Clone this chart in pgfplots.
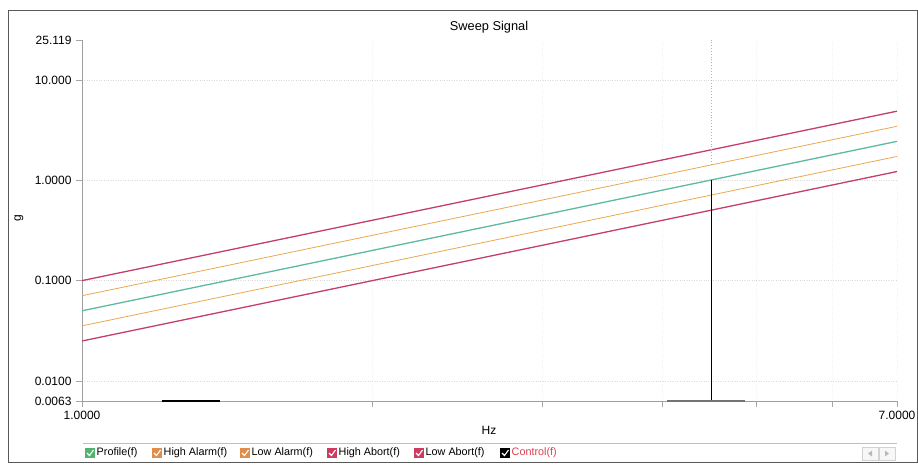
\documentclass[border=0pt]{standalone}
\usepackage{fontspec}
\setmainfont{Liberation Sans}
\usepackage{pgfplots}
\pgfplotsset{compat=1.18}

\definecolor{profilec}{RGB}{92,186,160}
\definecolor{alarmc}{RGB}{232,168,78}
\definecolor{abortc}{RGB}{196,62,104}
\definecolor{legprof}{RGB}{82,178,112}
\definecolor{legalarm}{RGB}{226,142,72}
\definecolor{legabort}{RGB}{204,60,96}
\definecolor{ctrltext}{RGB}{222,62,82}

% legend entry: left x, box colour, text, text colour
\newcommand{\legitem}[4]{%
  \fill[#2] (#1pt,-448pt) rectangle ++(10pt,-10pt);
  \draw[white, line width=1.1pt] (#1pt+2pt,-453pt) -- (#1pt+4.5pt,-455.5pt) -- (#1pt+8.5pt,-450pt);
  \node[anchor=west, inner sep=0pt, text=#4, font=\fontsize{10.8}{12}\selectfont] at (#1pt+11.5pt,-453pt) {#3};
}

\begin{document}
\begin{tikzpicture}
\path[use as bounding box] (0pt,0pt) rectangle (918pt,-464pt);
% window frame
\draw[gray!70!black, line width=1pt] (8pt,-10pt) rectangle (917pt,-462pt);

\begin{axis}[
  at={(82pt,-401pt)}, anchor=south west,
  width=815pt, height=361pt, scale only axis,
  xmode=log, ymode=log,
  xmin=1, xmax=7, ymin=0.0063, ymax=25.119,
  axis x line*=bottom, axis y line*=left,
  axis line style={-, gray!75, line width=0.8pt},
  xtick={1,2,3,4,5,6,7},
  xticklabels={1.0000,,,,,,7.0000},
  ytick={0.01,0.1,1,10},
  yticklabels={0.0100,0.1000,1.0000,10.000},
  extra y ticks={0.0063,25.119},
  extra y tick labels={0.0063,25.119},
  extra y tick style={grid=none},
  xminorticks=false, yminorticks=false,
  xmajorgrids, ymajorgrids,
  major x grid style={gray!10, dotted, line width=0.6pt},
  major y grid style={gray!30, dotted, line width=0.7pt},
  tick align=outside, major tick length=6pt,
  tick style={gray!70, line width=0.7pt},
  /pgf/number format/assume math mode=true,
  ticklabel style={font=\fontsize{12}{13}\selectfont},
  xticklabel style={yshift=-1pt},
  yticklabel style={xshift=-1pt},
  clip=true,
]
% Profile(f)
\addplot[profilec, line width=1.3pt] coordinates {
  (1,0.05) (2,0.2) (3,0.45) (4,0.8) (5,1.25) (6,1.8) (7,2.45)};
% High Alarm(f)
\addplot[alarmc, line width=0.8pt] coordinates {
  (1,0.0707) (2,0.283) (3,0.636) (4,1.131) (5,1.767) (6,2.545) (7,3.464)};
% Low Alarm(f)
\addplot[alarmc, line width=0.8pt] coordinates {
  (1,0.0354) (2,0.1414) (3,0.318) (4,0.566) (5,0.884) (6,1.273) (7,1.732)};
% High Abort(f)
\addplot[abortc, line width=1.3pt] coordinates {
  (1,0.1) (2,0.4) (3,0.9) (4,1.6) (5,2.5) (6,3.6) (7,4.9)};
% Low Abort(f)
\addplot[abortc, line width=1.3pt] coordinates {
  (1,0.025) (2,0.1) (3,0.225) (4,0.4) (5,0.625) (6,0.9) (7,1.225)};
% Control(f)
\addplot[black, line width=0.9pt] coordinates {(4.49,1.01) (4.49,0.0063)};
\addplot[black, line width=1.6pt] coordinates {(1.21,0.0063) (1.39,0.0063)};
\addplot[black!55, line width=1.1pt] coordinates {(4.04,0.0063) (4.87,0.0063)};
% cursor
\addplot[alarmc, dotted, line width=0.9pt] coordinates {(4.49,1.43) (4.49,25.119)};
\end{axis}

% titles
\node[font=\fontsize{12.8}{14}\selectfont] at (489pt,-27pt) {Sweep Signal};
\node[font=\fontsize{12}{13}\selectfont, rotate=90] at (19pt,-218pt) {g};
\node[font=\fontsize{12}{13}\selectfont] at (489pt,-430pt) {Hz};

% legend bar
\draw[gray!50, line width=0.8pt] (83pt,-443pt) -- (897pt,-443pt);
\legitem{85}{legprof}{Profile(f)}{black}
\legitem{152}{legalarm}{High Alarm(f)}{black}
\legitem{240}{legalarm}{Low Alarm(f)}{black}
\legitem{327}{legabort}{High Abort(f)}{black}
\legitem{414}{legabort}{Low Abort(f)}{black}
\legitem{500}{black}{Control(f)}{ctrltext}

% scroll buttons
\draw[gray!35, fill=gray!6] (862pt,-447pt) rectangle (878pt,-460pt);
\draw[gray!35, fill=gray!6] (879pt,-447pt) rectangle (895pt,-460pt);
\fill[gray!55] (868pt,-453.5pt) -- (872pt,-450.5pt) -- (872pt,-456.5pt) -- cycle;
\fill[gray!55] (889pt,-453.5pt) -- (885pt,-450.5pt) -- (885pt,-456.5pt) -- cycle;
\end{tikzpicture}
\end{document}
